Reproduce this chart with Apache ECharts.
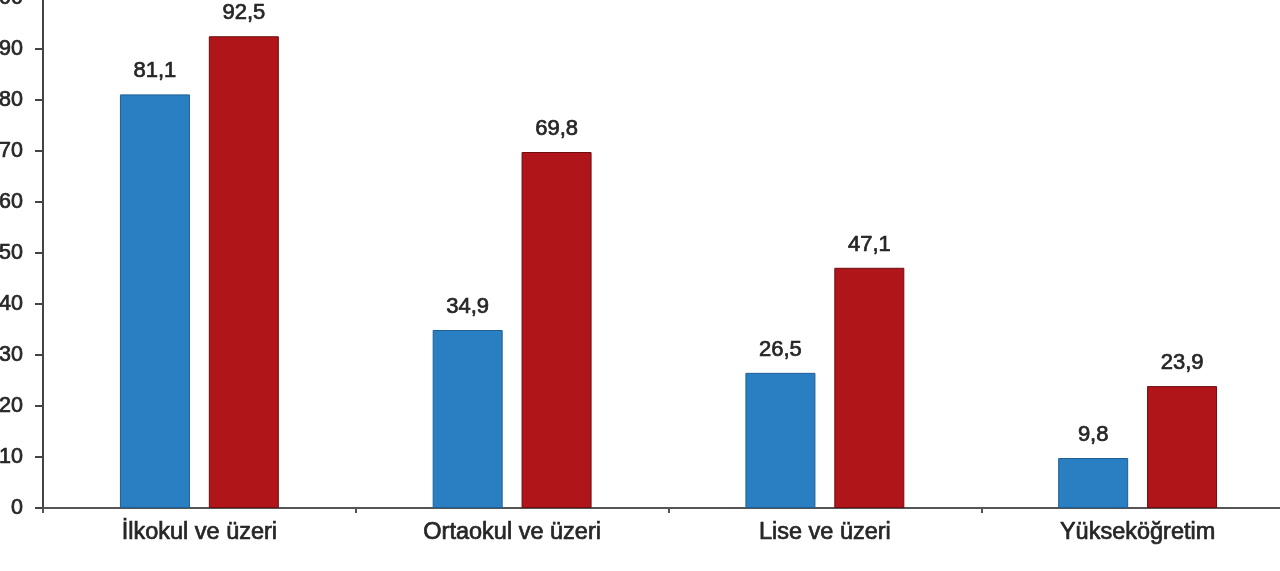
<!DOCTYPE html>
<html><head><meta charset="utf-8">
<script src="https://cdn.jsdelivr.net/npm/echarts@6/dist/echarts.min.js"></script>
<style>html,body{margin:0;padding:0;background:#fff;overflow:hidden;width:1280px;height:571px;position:relative}#c{position:absolute;left:0;top:-20px;width:1300px;height:600px}</style>
</head><body><div id="c"></div>
<script>
const categories = ['İlkokul ve üzeri', 'Ortaokul ve üzeri', 'Lise ve üzeri', 'Yükseköğretim'];
const seriesA = [81.1, 34.9, 26.5, 9.8];
const seriesB = [92.5, 69.8, 47.1, 23.9];
const yTicks = [0, 10, 20, 30, 40, 50, 60, 70, 80, 90, 100];

const chart = echarts.init(document.getElementById('c'), null, {renderer: 'canvas'});
const fmt = p => String(p.value.toFixed(1)).replace('.', ',');
const font = '"Liberation Sans", Arial, sans-serif';
const txt = {color: '#262626', fontFamily: font, textBorderColor: '#262626', textBorderWidth: 0.7};
chart.setOption({
  animation: false,
  grid: {left: 43, top: 18, width: 1251, height: 510, containLabel: false, outerBoundsMode: 'none'},
  xAxis: {
    type: 'category', data: categories,
    axisLine: {lineStyle: {color: '#555', width: 2}},
    axisTick: {show: true, length: 5, lineStyle: {color: '#555', width: 2}},
    axisLabel: Object.assign({fontSize: 23.5, margin: 13}, txt)
  },
  yAxis: {
    type: 'value', min: yTicks[0], max: yTicks[yTicks.length - 1], interval: 10,
    axisLine: {show: true, lineStyle: {color: '#444', width: 2}},
    axisTick: {show: true, length: 8, lineStyle: {color: '#444', width: 2}},
    splitLine: {show: false},
    axisLabel: Object.assign({fontSize: 21.5, margin: 20}, txt)
  },
  series: [
    {type: 'bar', data: seriesA, barWidth: 70, barGap: '27%',
     itemStyle: {color: '#2a7fc3', borderColor: '#1f5f95', borderWidth: 1},
     label: Object.assign({show: true, position: 'top', distance: 12, fontSize: 22, formatter: fmt}, txt)},
    {type: 'bar', data: seriesB, barWidth: 70,
     itemStyle: {color: '#b01519', borderColor: '#6e0c0f', borderWidth: 1},
     label: Object.assign({show: true, position: 'top', distance: 12, fontSize: 22, formatter: fmt}, txt)}
  ]
});
</script></body></html>
